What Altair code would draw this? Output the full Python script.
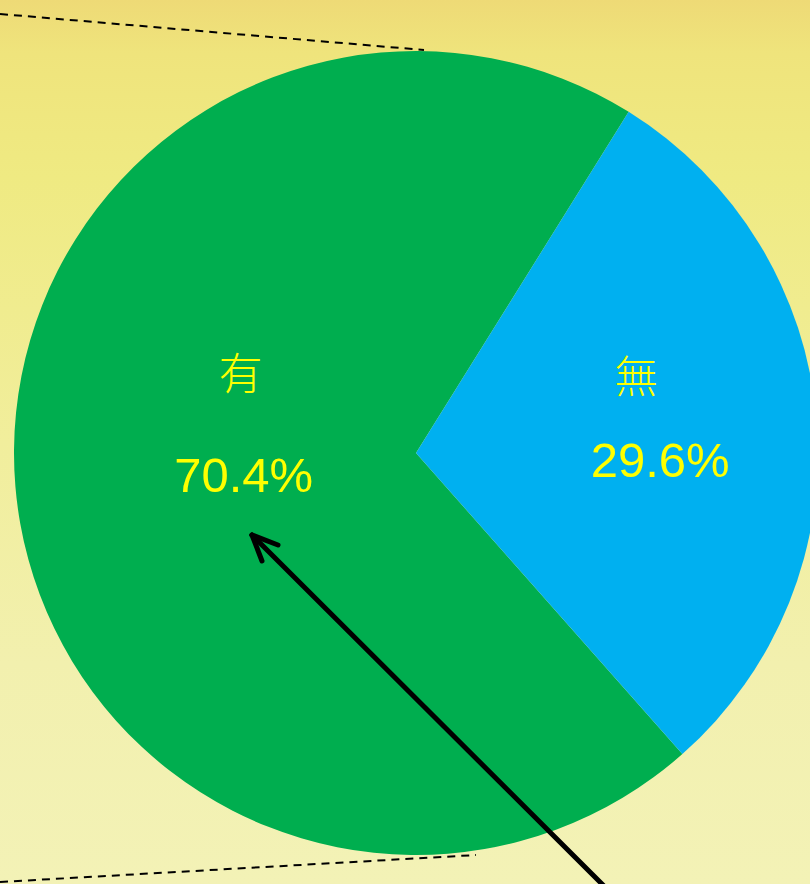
import math
import altair as alt
import pandas as pd

# ---- data ----
categories = ["有", "無"]
values = [70.4, 29.6]
labels = ["70.4%", "29.6%"]
colors = ["#00AE4F", "#00B0F0"]
order_idx = [0, 1]

df = pd.DataFrame({"cat": categories, "value": values, "label": labels, "idx": order_idx})

# ---- layout / style ----
W, H = 810, 884
CX, CY, R = 416, 453, 402
START = math.radians(138.5)
theta_scale = alt.Scale(domain=[0, 100], range=[START, START + 2 * math.pi])
one = alt.Data(values=[{}])

bg = alt.Chart(one).mark_rect(
    color=alt.LinearGradient(
        gradient="linear", x1=0, x2=0, y1=0, y2=1,
        stops=[
            alt.GradientStop(color="#EEDA76", offset=0),
            alt.GradientStop(color="#EFE47C", offset=0.06),
            alt.GradientStop(color="#EFEA82", offset=0.2),
            alt.GradientStop(color="#F1EE9C", offset=0.5),
            alt.GradientStop(color="#F2F0AE", offset=0.75),
            alt.GradientStop(color="#F3F2B6", offset=1),
        ],
    )
).encode(x=alt.value(0), x2=alt.value(W), y=alt.value(0), y2=alt.value(H))


def rule(x1, y1, x2, y2, **kw):
    return alt.Chart(one).mark_rule(**kw).encode(
        x=alt.value(x1), y=alt.value(y1), x2=alt.value(x2), y2=alt.value(y2)
    )


dash_top = rule(0, 14, 424, 50, color="black", strokeWidth=2, strokeDash=[8, 6])
dash_bot = rule(0, 882, 476, 855, color="black", strokeWidth=2, strokeDash=[8, 6])

pie = alt.Chart(df).mark_arc(radius=R).encode(
    theta=alt.Theta("value:Q", stack=True, scale=theta_scale),
    color=alt.Color("cat:N", scale=alt.Scale(domain=categories, range=colors), legend=None),
    order=alt.Order("idx:Q"),
    x=alt.value(CX),
    y=alt.value(CY),
)

lab_base = alt.Chart(df).transform_window(
    cum="sum(value)", sort=[alt.SortField("idx")]
).transform_calculate(mid="datum.cum - datum.value / 2")


def txt(cat, field, r, dy, size, font, baseline, weight):
    return lab_base.transform_filter(alt.datum.cat == cat).mark_text(
        radius=r, dy=dy, fontSize=size, font=font, color="#FFFF00",
        align="center", baseline=baseline, fontWeight=weight,
    ).encode(
        theta=alt.Theta("mid:Q", scale=theta_scale),
        text=alt.Text(f"{field}:N"),
        x=alt.value(CX),
        y=alt.value(CY),
    )


CJK = "Noto Sans CJK TC"
NUM = "Liberation Sans"
t1 = txt("有", "cat", 176, -91, 44, CJK, "middle", 300)
t2 = txt("有", "label", 173, 25, 49, NUM, "alphabetic", 400)
t3 = txt("無", "cat", 221, -55, 44, CJK, "middle", 300)
t4 = txt("無", "label", 245, 44.5, 49, NUM, "alphabetic", 400)

# arrow
TIPX, TIPY = 252, 535
arrow_kw = dict(color="black", strokeWidth=5, strokeCap="round")
shaft = rule(TIPX, TIPY, 612, 894, **arrow_kw)
arm1 = rule(TIPX, TIPY, 278, 545, **arrow_kw)
arm2 = rule(TIPX, TIPY, 262, 561, **arrow_kw)

chart = alt.layer(
    bg, dash_top, dash_bot, pie, t1, t2, t3, t4, shaft, arm1, arm2
).properties(
    width=W, height=H, padding=0,
    autosize=alt.AutoSizeParams(type="none"),
    background="#F1EE9E",
).configure_view(strokeWidth=0)

chart.save("out.html", embed_options={"renderer": "svg", "actions": False})
